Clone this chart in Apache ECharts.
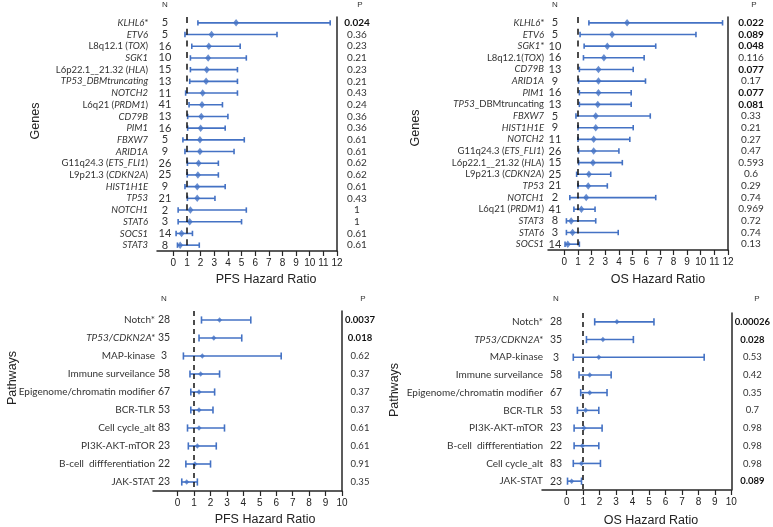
<!DOCTYPE html>
<html><head><meta charset="utf-8">
<script src="https://cdn.jsdelivr.net/npm/echarts@6/dist/echarts.min.js"></script>
<style>html,body{margin:0;padding:0;background:#fff}#c{width:773px;height:527px}</style>
</head><body><div id="c"></div>
<script>
// ---------- DATA ----------
const pfsGeneLabels = ["<i>KLHL6*</i>","<i>ETV6</i>","L8q12.1 (<i>TOX</i>)","<i>SGK1</i>","L6p22.1__21.32 (<i>HLA</i>)","<i>TP53_DBMtruncating</i>","<i>NOTCH2</i>","L6q21 (<i>PRDM1</i>)","<i>CD79B</i>","<i>PIM1</i>","<i>FBXW7</i>","<i>ARID1A</i>","G11q24.3 (<i>ETS_FLI1</i>)","L9p21.3 (<i>CDKN2A</i>)","<i>HIST1H1E</i>","<i>TP53</i>","<i>NOTCH1</i>","<i>STAT6</i>","<i>SOCS1</i>","<i>STAT3</i>"];
const pfsGeneN  = [5,5,16,10,15,13,11,41,13,16,5,9,26,25,9,21,2,3,14,8];
const pfsGeneHR = [4.6,2.8,2.6,2.55,2.45,2.4,2.15,2.1,2.05,2.0,1.95,1.95,1.85,1.8,1.75,1.75,1.25,1.2,0.6,0.5];
const pfsGeneLo = [1.8,0.85,1.35,1.25,1.25,1.2,0.9,1.15,1.05,1.05,0.7,0.85,1.03,1.02,0.85,1.03,0.35,0.35,0.2,0.3];
const pfsGeneHi = [11.5,7.6,4.9,5.35,4.7,4.7,4.7,3.6,4.0,3.8,5.2,4.45,3.3,3.3,3.8,3.05,5.35,5.0,1.4,1.9];
const pfsGeneP  = ["0.024","0.36","0.23","0.21","0.23","0.21","0.43","0.24","0.36","0.36","0.61","0.61","0.62","0.62","0.61","0.43","1","1","0.61","0.61"];

const osGeneLabels = ["<i>KLHL6*</i>","<i>ETV6</i>","<i>SGK1*</i>","L8q12.1(<i>TOX</i>)","<i>CD79B</i>","<i>ARID1A</i>","<i>PIM1</i>","<i>TP53</i>_DBMtruncating","<i>FBXW7</i>","<i>HIST1H1E</i>","<i>NOTCH2</i>","G11q24.3 (<i>ETS_FLI1</i>)","L6p22.1__21.32 (<i>HLA</i>)","L9p21.3 (<i>CDKN2A</i>)","<i>TP53</i>","<i>NOTCH1</i>","L6q21 (<i>PRDM1</i>)","<i>STAT3</i>","<i>STAT6</i>","<i>SOCS1</i>"];
const osGeneN  = [5,5,10,16,13,9,16,13,5,9,11,26,15,25,21,2,41,8,3,14];
const osGeneHR = [4.6,3.5,3.15,2.9,2.5,2.5,2.5,2.45,2.3,2.3,2.15,2.15,2.1,1.8,1.75,1.6,1.25,0.5,0.6,0.25];
const osGeneLo = [1.8,1.15,1.45,1.4,1.1,1.05,1.1,1.1,0.85,1.0,1.0,1.05,1.05,0.9,1.0,0.4,0.7,0.15,0.15,0.05];
const osGeneHi = [11.6,9.65,6.7,5.85,5.05,5.95,4.9,4.9,6.3,5.05,4.8,4.0,4.25,3.4,3.15,6.7,2.25,2.3,3.95,1.1];
const osGeneP  = ["0.022","0.089","0.048","0.116","0.077","0.17","0.077","0.081","0.33","0.21","0.27","0.47","0.593","0.6","0.29","0.74","0.969","0.72","0.74","0.13"];

const pfsPathLabels = ["Notch*","<i>TP53/CDKN2A*</i>","MAP-kinase","Immune surveilance","Epigenome/chromatin modifier","BCR-TLR","Cell cycle_alt","PI3K-AKT-mTOR","B-cell  diffferentiation","JAK-STAT"];
const pfsPathN  = [28,35,3,58,67,53,83,23,22,23];
const pfsPathHR = [2.55,2.2,1.5,1.4,1.3,1.3,1.3,1.2,1.05,0.55];
const pfsPathLo = [1.45,1.3,0.35,0.75,0.8,0.8,0.6,0.65,0.5,0.25];
const pfsPathHi = [4.45,3.9,6.3,2.55,2.25,2.15,2.85,2.35,2.0,1.2];
const pfsPathP  = ["0.0037","0.018","0.62","0.37","0.37","0.37","0.61","0.61","0.91","0.35"];

const osPathLabels = ["Notch*","<i>TP53/CDKN2A*</i>","MAP-kinase","Immune surveilance","Epigenome/chromatin modifier","BCR-TLR","PI3K-AKT-mTOR","B-cell  diffferentiation","Cell cycle_alt","JAK-STAT"];
const osPathN  = [28,35,3,58,67,53,23,22,83,23];
const osPathHR = [3.05,2.2,1.95,1.4,1.4,1.15,1.05,0.95,0.9,0.3];
const osPathLo = [1.7,1.2,0.4,0.75,0.85,0.65,0.45,0.45,0.4,0.05];
const osPathHi = [5.3,4.05,8.35,2.7,2.45,1.95,2.15,1.95,2.05,0.9];
const osPathP  = ["0.00026","0.028","0.53","0.42","0.35","0.7","0.98","0.98","0.98","0.089"];

const ticks12 = [0,1,2,3,4,5,6,7,8,9,10,11,12];
const ticks10 = [0,1,2,3,4,5,6,7,8,9,10];
const sigLevel = 0.1;

// ---------- LAYOUT ----------
const BLUE = '#4472C4';
const LBL = 'Lato, "Open Sans", sans-serif';
const SANS = '"Liberation Sans", Arial, sans-serif';

const panels = [
  {labels:pfsGeneLabels,n:pfsGeneN,hr:pfsGeneHR,lo:pfsGeneLo,hi:pfsGeneHi,p:pfsGeneP,ticks:ticks12,
   grid:{left:157,top:17,width:180,height:234},xmin:-1.2,xmax:12,lblMargin:9,nX:165,pX:357,headY:5,
   lblSize:9.5,numSize:10,cap:2.7,sym:[6,7.5],dash:[6,5.7],title:'PFS Hazard Ratio',tX:266,tY:280,side:'Genes',sX:36,sY:121},
  {labels:osGeneLabels,n:osGeneN,hr:osGeneHR,lo:osGeneLo,hi:osGeneHi,p:osGeneP,ticks:ticks12,
   grid:{left:548,top:17,width:180,height:233},xmin:-1.2,xmax:12,lblMargin:4,nX:555,pX:751,headY:5,
   lblSize:9.5,numSize:10,cap:2.7,sym:[6,7.5],dash:[6,5.7],title:'OS Hazard Ratio',tX:658,tY:280,side:'Genes',sX:416,sY:128},
  {labels:pfsPathLabels,n:pfsPathN,hr:pfsPathHR,lo:pfsPathLo,hi:pfsPathHi,p:pfsPathP,ticks:ticks10,
   grid:{left:153,top:311,width:189,height:180},xmin:-1.5,xmax:10,lblMargin:-2,nX:164,pX:360,headY:299,
   lblSize:10,numSize:9.5,cap:3.6,sym:[5,5.5],dash:[5,4],title:'PFS Hazard Ratio',tX:265,tY:520,side:'Pathways',sX:13,sY:378},
  {labels:osPathLabels,n:osPathN,hr:osPathHR,lo:osPathLo,hi:osPathHi,p:osPathP,ticks:ticks10,
   grid:{left:542,top:313,width:191,height:177},xmin:-1.5,xmax:10,lblMargin:-1,nX:556,pX:754,headY:299,
   lblSize:10,numSize:9.5,cap:3.6,sym:[5,5.5],dash:[5,4],title:'OS Hazard Ratio',tX:651,tY:521,side:'Pathways',sX:395,sY:390}
];

function richify(s){
  return s.split(/(<i>.*?<\/i>)/).filter(x=>x.length).map(seg =>
    seg.startsWith('<i>') ? '{i|'+seg.slice(3,-4)+'}' : '{n|'+seg+'}').join('');
}

const option = {animation:false, backgroundColor:'#fff', grid:[], xAxis:[], yAxis:[], series:[], graphic:[]};

panels.forEach((pn,k)=>{
  option.grid.push(Object.assign({containLabel:false}, pn.grid));
  option.xAxis.push({
    type:'value', gridIndex:k, min:pn.xmin, max:pn.xmax,
    axisLine:{show:true,onZero:false,lineStyle:{color:'#262626',width:1.5}},
    axisTick:{show:true,customValues:pn.ticks,length:5,lineStyle:{color:'#262626',width:1.2}},
    axisLabel:{customValues:pn.ticks,fontSize:10,fontFamily:SANS,color:'#222',margin:7},
    splitLine:{show:false}
  });
  const yBase = {type:'category', gridIndex:k, data:pn.labels, inverse:true,
    axisTick:{show:false}, splitLine:{show:false}};
  option.yAxis.push(Object.assign({}, yBase, {
    position:'left', axisLine:{show:false,onZero:false},
    axisLabel:{interval:0, margin:pn.lblMargin, formatter:v=>richify(v),
      rich:{n:{fontFamily:LBL,fontSize:pn.lblSize,color:'#333'},
            i:{fontFamily:LBL,fontSize:pn.lblSize,color:'#333',fontStyle:'italic'}}}
  }));
  option.yAxis.push(Object.assign({}, yBase, {
    position:'left', axisLine:{show:false,onZero:false},
    axisLabel:{interval:0, inside:true, align:'center', margin:pn.nX-pn.grid.left,
      fontFamily:LBL, fontSize:pn.numSize+1, color:'#333',
      formatter:(v,i)=>String(pn.n[i])}
  }));
  option.yAxis.push(Object.assign({}, yBase, {
    position:'right', axisLine:{show:true,onZero:false,lineStyle:{color:'#262626',width:1.5}},
    axisLabel:{interval:0, align:'center', margin:pn.pX-(pn.grid.left+pn.grid.width),
      formatter:(v,i)=> (parseFloat(pn.p[i])<sigLevel ? '{b|' : '{r|') + pn.p[i] + '}',
      rich:{r:{fontFamily:LBL,fontSize:pn.numSize,color:'#333'},
            b:{fontFamily:LBL,fontSize:pn.numSize,color:'#111',fontWeight:'bold'}}}
  }));
  const yi = 3*k;
  option.series.push({
    type:'custom', xAxisIndex:k, yAxisIndex:yi, silent:true,
    data: pn.lo.map((l,i)=>[i,l,pn.hi[i]]),
    encode:{y:0, x:[1,2]},
    renderItem:(params,api)=>{
      const i=api.value(0), a=api.coord([api.value(1),i]), b=api.coord([api.value(2),i]);
      const st={stroke:BLUE,lineWidth:1.6};
      return {type:'group',children:[
        {type:'line',shape:{x1:a[0],y1:a[1],x2:b[0],y2:b[1]},style:st},
        {type:'line',shape:{x1:a[0],y1:a[1]-pn.cap,x2:a[0],y2:a[1]+pn.cap},style:st},
        {type:'line',shape:{x1:b[0],y1:b[1]-pn.cap,x2:b[0],y2:b[1]+pn.cap},style:st}
      ]};
    }
  });
  option.series.push({
    type:'scatter', xAxisIndex:k, yAxisIndex:yi, silent:true,
    symbol:'diamond', symbolSize:pn.sym, itemStyle:{color:BLUE},
    data: pn.hr.map((h,i)=>[h,i]),
    markLine:{silent:true, symbol:['none','none'], label:{show:false},
      lineStyle:{color:'#111',width:1.5,type:pn.dash}, data:[{xAxis:1}]}
  });
  option.graphic.push(
    {type:'text',x:pn.nX,y:pn.headY,style:{text:'N',fontFamily:SANS,fontSize:8,fill:'#333',textAlign:'center',textVerticalAlign:'middle'}},
    {type:'text',x:pn.pX+3,y:pn.headY,style:{text:'P',fontFamily:SANS,fontSize:8,fill:'#333',textAlign:'center',textVerticalAlign:'middle'}},
    {type:'text',x:pn.tX,y:pn.tY,style:{text:pn.title,fontFamily:SANS,fontSize:12.5,fill:'#222',textAlign:'center',textVerticalAlign:'middle'}},
    {type:'text',x:pn.sX,y:pn.sY,rotation:Math.PI/2,style:{text:pn.side,fontFamily:SANS,fontSize:12.5,fill:'#222',textAlign:'center',textVerticalAlign:'middle'}}
  );
});

const chart = echarts.init(document.getElementById('c'), null, {renderer:'canvas'});
chart.setOption(option);
</script></body></html>
